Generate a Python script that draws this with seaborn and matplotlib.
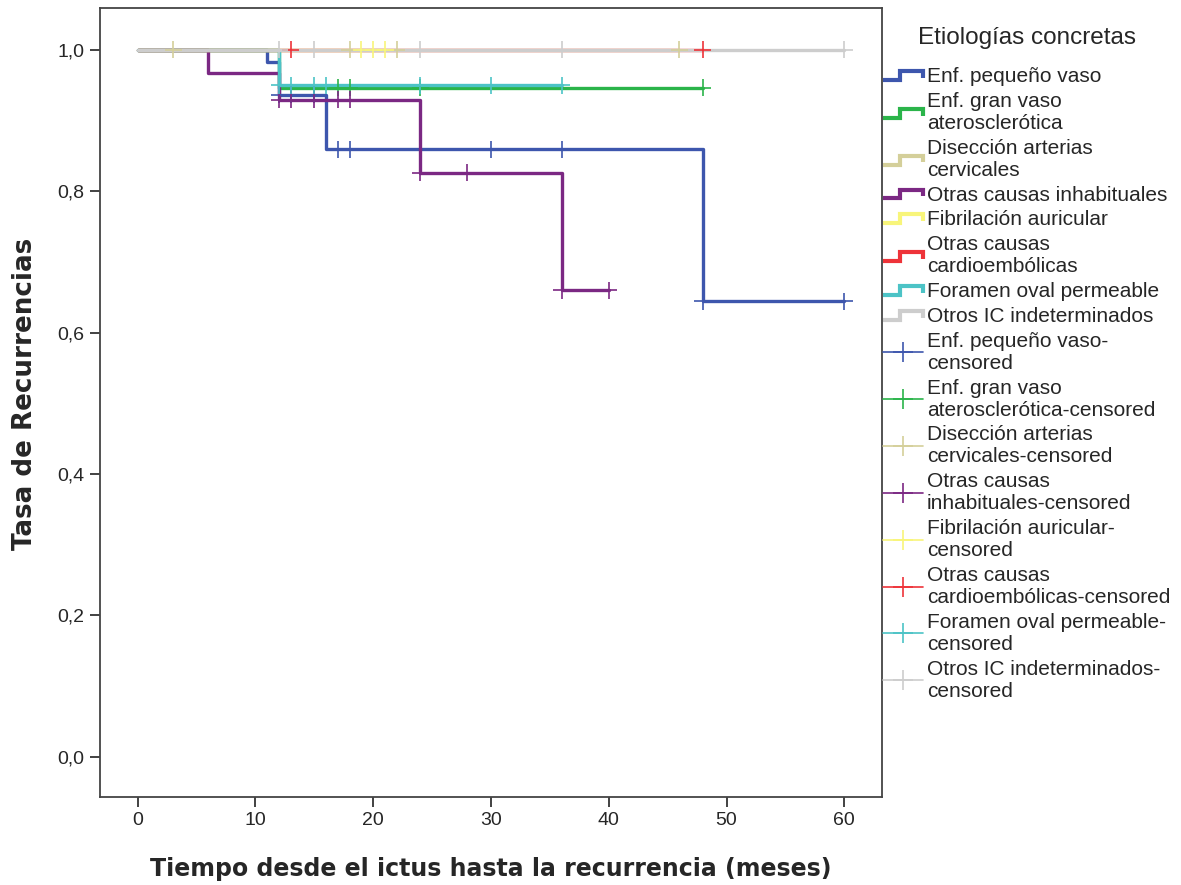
import numpy as np
import pandas as pd
import matplotlib
matplotlib.use("Agg")
import matplotlib.pyplot as plt
import seaborn as sns
from matplotlib.lines import Line2D
from matplotlib.legend_handler import HandlerBase

# ---------------- data ----------------
grupos = [
    "Enf. pequeño vaso",
    "Enf. gran vaso\naterosclerótica",
    "Disección arterias\ncervicales",
    "Otras causas inhabituales",
    "Fibrilación auricular",
    "Otras causas\ncardioembólicas",
    "Foramen oval permeable",
    "Otros IC indeterminados",
]
etiquetas_censura = [
    "Enf. pequeño vaso-\ncensored",
    "Enf. gran vaso\naterosclerótica-censored",
    "Disección arterias\ncervicales-censored",
    "Otras causas\ninhabituales-censored",
    "Fibrilación auricular-\ncensored",
    "Otras causas\ncardioembólicas-censored",
    "Foramen oval permeable-\ncensored",
    "Otros IC indeterminados-\ncensored",
]
colores = ["#3d56ad", "#2bb44a", "#d4cf9a", "#7b2883",
           "#f8f57a", "#ee3339", "#4cc3c6", "#cdcdcd"]

# step curves: times where the survival changes, and survival after each time
pequeno_t = [0, 11, 12, 16, 48, 60]
pequeno_s = [1.0, 0.982, 0.936, 0.859, 0.644, 0.644]
pequeno_c = [12, 13, 15, 17, 18, 30, 36, 48, 60]

gran_t = [0, 12, 48]
gran_s = [1.0, 0.946, 0.946]
gran_c = [17, 18, 24, 48]

diseccion_t = [0, 46]
diseccion_s = [1.0, 1.0]
diseccion_c = [3, 18, 22, 46]

inhab_t = [0, 6, 12, 24, 36, 40]
inhab_s = [1.0, 0.967, 0.929, 0.826, 0.660, 0.660]
inhab_c = [12, 13, 15, 17, 18, 24, 28, 36, 40]

fa_t = [0, 21]
fa_s = [1.0, 1.0]
fa_c = [19, 20, 21]

cardio_t = [0, 48]
cardio_s = [1.0, 1.0]
cardio_c = [13, 48]

foramen_t = [0, 12, 36]
foramen_s = [1.0, 0.950, 0.950]
foramen_c = [12, 13, 15, 16, 24, 30, 36]

otros_t = [0, 60]
otros_s = [1.0, 1.0]
otros_c = [12, 15, 24, 36, 60]

x_ticks = [0, 10, 20, 30, 40, 50, 60]
y_ticks = [0.0, 0.2, 0.4, 0.6, 0.8, 1.0]
y_tick_labels = ["0,0", "0,2", "0,4", "0,6", "0,8", "1,0"]

curvas = [
    (pequeno_t, pequeno_s, pequeno_c),
    (gran_t, gran_s, gran_c),
    (diseccion_t, diseccion_s, diseccion_c),
    (inhab_t, inhab_s, inhab_c),
    (fa_t, fa_s, fa_c),
    (cardio_t, cardio_s, cardio_c),
    (foramen_t, foramen_s, foramen_c),
    (otros_t, otros_s, otros_c),
]

rows, crows = [], []
for g, (t, s, c) in zip(grupos, curvas):
    for ti, si in zip(t, s):
        rows.append((g, ti, si))
    tt = np.array(t)
    for ci in c:
        idx = np.searchsorted(tt, ci, side="right") - 1
        crows.append((g, ci, s[idx]))
df = pd.DataFrame(rows, columns=["grupo", "t", "s"])
dfc = pd.DataFrame(crows, columns=["grupo", "t", "s"])

# ---------------- plot ----------------
sns.set_theme(style="white")
plt.rcParams["font.family"] = ["Liberation Sans", "DejaVu Sans"]

fig = plt.figure(figsize=(11.81, 8.85), dpi=100)
ax = fig.add_axes([100 / 1181, 1 - 797 / 885, 782 / 1181, 789 / 885])

pal = dict(zip(grupos, colores))
sns.lineplot(data=df, x="t", y="s", hue="grupo", hue_order=grupos, palette=pal,
             drawstyle="steps-post", estimator=None, legend=False,
             linewidth=2.4, ax=ax)
sns.scatterplot(data=dfc, x="t", y="s", hue="grupo", hue_order=grupos, palette=pal,
                marker="+", s=150, linewidth=1.2, legend=False, ax=ax, zorder=3)

ax.set_xlim(-3.2, 63.2)
ax.set_ylim(-0.057, 1.059)
ax.set_xticks(x_ticks)
ax.set_yticks(y_ticks)
ax.set_yticklabels(y_tick_labels)
ax.tick_params(axis="both", direction="out", length=7, width=1.3, color="#333333",
               labelsize=14, left=True, bottom=True, pad=4)
for sp in ax.spines.values():
    sp.set_color("#444444")
    sp.set_linewidth(1.3)

ax.set_xlabel("Tiempo desde el ictus hasta la recurrencia (meses)",
              fontsize=17, fontweight="bold", family="DejaVu Sans", labelpad=20)
ax.set_ylabel("Tasa de Recurrencias", fontsize=18.8, fontweight="bold",
              family="DejaVu Sans")
ax.yaxis.set_label_coords(-0.079, 0.511)


class StepHandler(HandlerBase):
    def create_artists(self, legend, orig_handle, xdescent, ydescent, width, height,
                       fontsize, trans):
        x0 = -xdescent
        lo = -ydescent + 0.15 * height
        hi = -ydescent + 0.75 * height
        xs = [x0, x0 + 0.42 * width, x0 + 0.42 * width, x0 + width, x0 + width]
        ys = [lo, lo, hi, hi, lo + 0.15 * height]
        ln = Line2D(xs, ys, color=orig_handle.get_color(), lw=3.0,
                    solid_joinstyle="miter", solid_capstyle="butt")
        ln.set_transform(trans)
        return [ln]


handles, labels = [], []
handler_map = {}
for g, c in zip(grupos, colores):
    h = Line2D([], [], color=c)
    handles.append(h)
    labels.append(g)
    handler_map[h] = StepHandler()
for g, c in zip(etiquetas_censura, colores):
    h = Line2D([], [], color=c, lw=1.2, marker="+", markersize=15, mew=1.2)
    handles.append(h)
    labels.append(g)

leg = ax.legend(handles, labels, handler_map=handler_map, loc="upper left",
                bbox_to_anchor=(883 / 1181, 1 - 27 / 885),
                bbox_transform=fig.transFigure, frameon=False,
                title="Etiologías concretas", title_fontsize=17.5, fontsize=15,
                borderaxespad=0, borderpad=0, handlelength=1.9, handletextpad=0.2,
                labelspacing=0.28)
leg._legend_box.sep = 13

fig.savefig("out.png", dpi=100)
